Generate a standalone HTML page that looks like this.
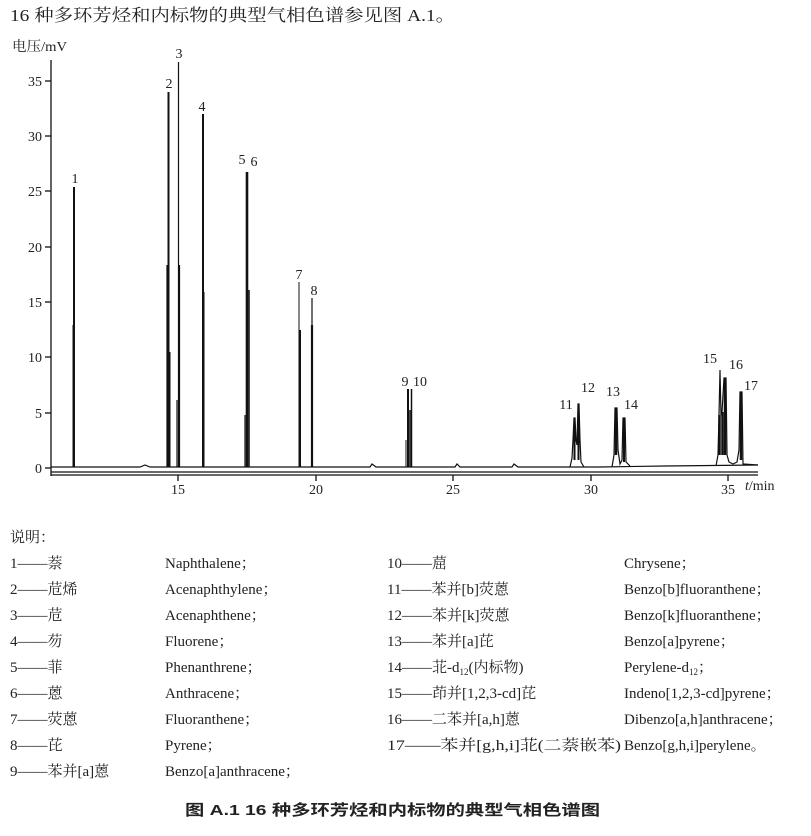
<!DOCTYPE html>
<html><head><meta charset="utf-8"><style>
html,body{margin:0;padding:0;background:#fff;}
svg{display:block;}
text{fill:#222;}
.s{font-family:"Liberation Serif","Noto Serif CJK SC",serif;font-size:15px;}
.t{font-family:"Liberation Serif","Noto Serif CJK SC",serif;font-size:14px;}
</style></head><body>
<svg width="811" height="836" viewBox="0 0 811 836" xmlns="http://www.w3.org/2000/svg">
<text x="10" y="21" font-family="'Liberation Serif','Noto Serif CJK SC',serif" font-size="17" textLength="445" lengthAdjust="spacingAndGlyphs">16 种多环芳烃和内标物的典型气相色谱参见图 A.1。</text>
<text x="12" y="51" class="t" textLength="55" lengthAdjust="spacingAndGlyphs">电压/mV</text>
<g stroke="#111" stroke-width="1.3" fill="none">
<line x1="51" y1="60" x2="51" y2="476"/>
<line x1="51" y1="472" x2="758" y2="472"/>
<line x1="51" y1="475" x2="758" y2="475"/>
<line x1="45" y1="468" x2="51" y2="468"/>
<line x1="45" y1="413" x2="51" y2="413"/>
<line x1="45" y1="357" x2="51" y2="357"/>
<line x1="45" y1="302" x2="51" y2="302"/>
<line x1="45" y1="247" x2="51" y2="247"/>
<line x1="45" y1="191" x2="51" y2="191"/>
<line x1="45" y1="136" x2="51" y2="136"/>
<line x1="45" y1="81" x2="51" y2="81"/>
<line x1="178" y1="475" x2="178" y2="481"/>
<line x1="316" y1="475" x2="316" y2="481"/>
<line x1="453" y1="475" x2="453" y2="481"/>
<line x1="591" y1="475" x2="591" y2="481"/>
<line x1="728" y1="475" x2="728" y2="481"/>
</g>
<g class="t" text-anchor="end">
<text x="42" y="473">0</text><text x="42" y="418">5</text><text x="42" y="362">10</text>
<text x="42" y="307">15</text><text x="42" y="252">20</text><text x="42" y="196">25</text>
<text x="42" y="141">30</text><text x="42" y="86">35</text>
</g>
<g class="t" text-anchor="middle">
<text x="178" y="494">15</text><text x="316" y="494">20</text><text x="453" y="494">25</text>
<text x="591" y="494">30</text><text x="728" y="494">35</text>
</g>
<text x="745" y="490" class="t"><tspan font-style="italic">t</tspan>/min</text>
<polyline fill="none" stroke="#111" stroke-width="1.2" points="51,467 140,467 145,465 150,467 370,467 372,464 376,467 455,467 457,464 460,467 512,467 514,464 518,467 570,467 600,467 665,466 758,465"/>
<g stroke="#111" fill="none">
<line x1="74" y1="467" x2="74" y2="187" stroke-width="2"/>
<line x1="73" y1="467" x2="73" y2="325" stroke-width="1"/>
<line x1="167" y1="467" x2="167" y2="265" stroke-width="1.2"/>
<line x1="168.5" y1="467" x2="168.5" y2="92" stroke-width="2"/>
<line x1="170" y1="467" x2="170" y2="352" stroke-width="1"/>
<line x1="177" y1="467" x2="177" y2="400" stroke-width="1.2"/>
<line x1="178.5" y1="467" x2="178.5" y2="62" stroke-width="1.2"/>
<line x1="179.5" y1="467" x2="179.5" y2="265" stroke-width="1.2"/>
<line x1="203" y1="467" x2="203" y2="114" stroke-width="2"/>
<line x1="204" y1="467" x2="204" y2="292" stroke-width="1"/>
<line x1="245" y1="467" x2="245" y2="415" stroke-width="1.2"/>
<line x1="247" y1="467" x2="247" y2="172" stroke-width="2.6"/>
<line x1="249" y1="467" x2="249" y2="290" stroke-width="1.5"/>
<line x1="299" y1="467" x2="299" y2="282" stroke-width="1"/>
<line x1="300" y1="467" x2="300" y2="330" stroke-width="2"/>
<line x1="312" y1="467" x2="312" y2="298" stroke-width="1.2"/>
<line x1="312" y1="467" x2="312" y2="325" stroke-width="2.2"/>
<line x1="406" y1="467" x2="406" y2="440" stroke-width="1"/>
<line x1="408" y1="467" x2="408" y2="389" stroke-width="2"/>
<line x1="411.5" y1="467" x2="411.5" y2="389" stroke-width="1.5"/>
<line x1="410" y1="467" x2="410" y2="410" stroke-width="1.5"/>
</g>
<polyline fill="none" stroke="#111" stroke-width="1.2" points="570,467 572,458 573,440 574,418 575,418 576,440 577,445 578,404 579,404 580,440 581,462 584,467"/>
<line x1="574.5" y1="460" x2="574.5" y2="418" stroke="#111" stroke-width="2"/>
<line x1="578.5" y1="460" x2="578.5" y2="404" stroke="#111" stroke-width="2"/>
<polyline fill="none" stroke="#111" stroke-width="1.2" points="612,467 614,455 615,408 617,408 618,450 620,464 622,460 623,418 625,418 626,462 630,466"/>
<line x1="616" y1="455" x2="616" y2="408" stroke="#111" stroke-width="2.5"/>
<line x1="624" y1="462" x2="624" y2="418" stroke="#111" stroke-width="2"/>
<polyline fill="none" stroke="#111" stroke-width="1.2" points="716,466 718,455 719,415 720,370 721,415 722,412 724,378 726,378 727,455 729,462 733,464 737,462 739,450 740,392 742,392 743,464 758,465"/>
<line x1="719.5" y1="455" x2="719.5" y2="415" stroke="#111" stroke-width="2.5"/>
<line x1="722.5" y1="455" x2="722.5" y2="412" stroke="#111" stroke-width="2.5"/>
<line x1="725" y1="455" x2="725" y2="378" stroke="#111" stroke-width="2.5"/>
<line x1="741" y1="460" x2="741" y2="392" stroke="#111" stroke-width="2.5"/>
<g class="t" text-anchor="middle">
<text x="75" y="183">1</text><text x="169" y="88">2</text><text x="179" y="58">3</text>
<text x="202" y="111">4</text><text x="242" y="164">5</text><text x="254" y="166">6</text>
<text x="299" y="279">7</text><text x="314" y="295">8</text>
<text x="405" y="386">9</text><text x="420" y="386">10</text>
<text x="566" y="409">11</text><text x="588" y="392">12</text>
<text x="613" y="396">13</text><text x="631" y="409">14</text>
<text x="710" y="363">15</text><text x="736" y="369">16</text><text x="751" y="390">17</text>
</g>
<text x="10" y="542" class="s">说明：</text>
<g class="s">
<text x="10" y="568">1——萘</text><text x="165" y="568">Naphthalene；</text>
<text x="10" y="594">2——苊烯</text><text x="165" y="594">Acenaphthylene；</text>
<text x="10" y="620">3——苊</text><text x="165" y="620">Acenaphthene；</text>
<text x="10" y="646">4——芴</text><text x="165" y="646">Fluorene；</text>
<text x="10" y="672">5——菲</text><text x="165" y="672">Phenanthrene；</text>
<text x="10" y="698">6——蒽</text><text x="165" y="698">Anthracene；</text>
<text x="10" y="724">7——荧蒽</text><text x="165" y="724">Fluoranthene；</text>
<text x="10" y="750">8——芘</text><text x="165" y="750">Pyrene；</text>
<text x="10" y="776">9——苯并[a]蒽</text><text x="165" y="776">Benzo[a]anthracene；</text>
<text x="387" y="568">10——䓛</text><text x="624" y="568">Chrysene；</text>
<text x="387" y="594">11——苯并[b]荧蒽</text><text x="624" y="594">Benzo[b]fluoranthene；</text>
<text x="387" y="620">12——苯并[k]荧蒽</text><text x="624" y="620">Benzo[k]fluoranthene；</text>
<text x="387" y="646">13——苯并[a]芘</text><text x="624" y="646">Benzo[a]pyrene；</text>
<text x="387" y="672">14——苝-d<tspan font-size="9" dy="3">12</tspan><tspan dy="-3">(内标物)</tspan></text><text x="624" y="672">Perylene-d<tspan font-size="9" dy="3">12</tspan><tspan dy="-3">；</tspan></text>
<text x="387" y="698">15——茚并[1,2,3-cd]芘</text><text x="624" y="698">Indeno[1,2,3-cd]pyrene；</text>
<text x="387" y="724">16——二苯并[a,h]蒽</text><text x="624" y="724">Dibenzo[a,h]anthracene；</text>
<text x="387" y="750" textLength="234" lengthAdjust="spacingAndGlyphs">17——苯并[g,h,i]苝(二萘嵌苯)</text><text x="624" y="750">Benzo[g,h,i]perylene。</text>
</g>
<text x="185" y="815" font-family="'Liberation Sans','Noto Sans CJK SC',sans-serif" font-size="15" font-weight="bold" textLength="415" lengthAdjust="spacingAndGlyphs">图 A.1   16 种多环芳烃和内标物的典型气相色谱图</text>
</svg>
</body></html>
